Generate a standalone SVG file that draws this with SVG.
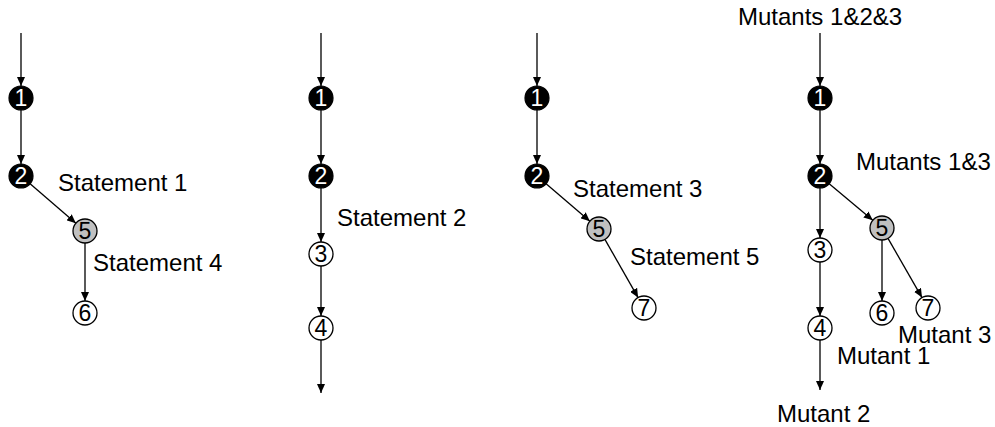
<svg xmlns="http://www.w3.org/2000/svg" width="995" height="427" viewBox="0 0 995 427">
<style>
.lbl{font-family:"Liberation Sans",Arial,sans-serif;font-size:24px;fill:#000}
.num{font-family:"Liberation Sans",Arial,sans-serif;font-size:23px;text-anchor:middle}
.blk circle{fill:#000;stroke:#000;stroke-width:1.2}
.blk text{fill:#fff}
.gry circle{fill:#c0c0c0;stroke:#000;stroke-width:1.3}
.wht circle{fill:#fff;stroke:#000;stroke-width:1.3}
#edges line{stroke:#000;stroke-width:1.3;marker-end:url(#ah)}
</style>
<defs>
<marker id="ah" markerWidth="10" markerHeight="8" refX="9" refY="4" orient="auto" markerUnits="userSpaceOnUse">
<path d="M0,0 L9,4 L0,8 Z" fill="#000"/>
</marker>
</defs>
<rect width="995" height="427" fill="#fff"/>
<g id="edges">
<line x1="21" y1="33" x2="21" y2="86"/>
<line x1="21" y1="110" x2="21" y2="164"/>
<line x1="30.1" y1="183.8" x2="75.9" y2="223.2"/>
<line x1="85" y1="243" x2="85" y2="301"/>
<line x1="321" y1="33" x2="321" y2="86"/>
<line x1="321" y1="110" x2="321" y2="164"/>
<line x1="321" y1="188" x2="321" y2="242"/>
<line x1="321" y1="266" x2="321" y2="316"/>
<line x1="321" y1="340" x2="321" y2="393"/>
<line x1="537" y1="33" x2="537" y2="86"/>
<line x1="537" y1="110" x2="537" y2="164"/>
<line x1="546.1" y1="183.8" x2="589.9" y2="221.2"/>
<line x1="604.9" y1="239.4" x2="638.1" y2="297.6"/>
<line x1="820" y1="33" x2="820" y2="86"/>
<line x1="820" y1="110" x2="820" y2="164"/>
<line x1="820" y1="188" x2="820" y2="238"/>
<line x1="820" y1="262" x2="820" y2="316"/>
<line x1="820" y1="340" x2="820" y2="390"/>
<line x1="829.2" y1="183.7" x2="872.8" y2="220.3"/>
<line x1="882" y1="240" x2="882" y2="301"/>
<line x1="888" y1="238.4" x2="922" y2="297.6"/>
</g>
<g id="g1n1" class="blk"><circle cx="21" cy="98" r="12"/><text class="num" x="21" y="106">1</text></g>
<g id="g1n2" class="blk"><circle cx="21" cy="176" r="12"/><text class="num" x="21" y="184">2</text></g>
<g id="g1n5" class="gry"><circle cx="85" cy="231" r="12"/><text class="num" x="85" y="239">5</text></g>
<g id="g1n6" class="wht"><circle cx="85" cy="313" r="12"/><text class="num" x="85" y="321">6</text></g>
<g id="g2n1" class="blk"><circle cx="321" cy="98" r="12"/><text class="num" x="321" y="106">1</text></g>
<g id="g2n2" class="blk"><circle cx="321" cy="176" r="12"/><text class="num" x="321" y="184">2</text></g>
<g id="g2n3" class="wht"><circle cx="321" cy="254" r="12"/><text class="num" x="321" y="262">3</text></g>
<g id="g2n4" class="wht"><circle cx="321" cy="328" r="12"/><text class="num" x="321" y="336">4</text></g>
<g id="g3n1" class="blk"><circle cx="537" cy="98" r="12"/><text class="num" x="537" y="106">1</text></g>
<g id="g3n2" class="blk"><circle cx="537" cy="176" r="12"/><text class="num" x="537" y="184">2</text></g>
<g id="g3n5" class="gry"><circle cx="599" cy="229" r="12"/><text class="num" x="599" y="237">5</text></g>
<g id="g3n7" class="wht"><circle cx="644" cy="308" r="12"/><text class="num" x="644" y="316">7</text></g>
<g id="g4n1" class="blk"><circle cx="820" cy="98" r="12"/><text class="num" x="820" y="106">1</text></g>
<g id="g4n2" class="blk"><circle cx="820" cy="176" r="12"/><text class="num" x="820" y="184">2</text></g>
<g id="g4n3" class="wht"><circle cx="820" cy="250" r="12"/><text class="num" x="820" y="258">3</text></g>
<g id="g4n4" class="wht"><circle cx="820" cy="328" r="12"/><text class="num" x="820" y="336">4</text></g>
<g id="g4n5" class="gry"><circle cx="882" cy="228" r="12"/><text class="num" x="882" y="236">5</text></g>
<g id="g4n6" class="wht"><circle cx="882" cy="313" r="12"/><text class="num" x="882" y="321">6</text></g>
<g id="g4n7" class="wht"><circle cx="928" cy="308" r="12"/><text class="num" x="928" y="316">7</text></g>
<g id="labels">
<text class="lbl" x="58" y="191">Statement 1</text>
<text class="lbl" x="93" y="271">Statement 4</text>
<text class="lbl" x="337" y="226">Statement 2</text>
<text class="lbl" x="573" y="197">Statement 3</text>
<text class="lbl" x="630" y="265">Statement 5</text>
<text class="lbl" x="738" y="25">Mutants 1&amp;2&amp;3</text>
<text class="lbl" x="856" y="170">Mutants 1&amp;3</text>
<text class="lbl" x="898" y="343">Mutant 3</text>
<text class="lbl" x="837" y="364">Mutant 1</text>
<text class="lbl" x="777" y="422">Mutant 2</text>
</g>
</svg>
